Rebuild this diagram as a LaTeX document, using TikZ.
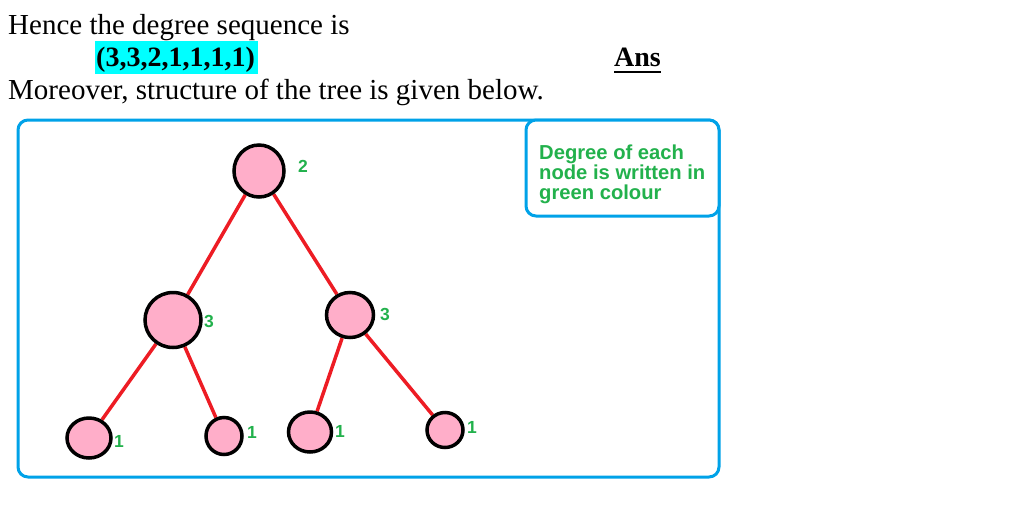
\documentclass[tikz,border=0pt]{standalone}
\usepackage{fontspec}
\setmainfont{Liberation Serif}
\newfontfamily\arialf{Liberation Sans}
\usetikzlibrary{shapes.geometric,backgrounds,calc}
\definecolor{gpink}{HTML}{FFAEC9}
\definecolor{gred}{HTML}{ED1C24}
\definecolor{ggreen}{HTML}{22B14C}
\definecolor{gblue}{HTML}{00A2E8}
\definecolor{gcyan}{HTML}{00FFFF}
\tikzset{
  vert/.style={ellipse,draw=black,fill=gpink,line width=3.5pt,inner sep=0pt},
  edge/.style={draw=gred,line width=3.5pt},
  deg/.style={anchor=base west,inner sep=0pt,text=ggreen,font=\arialf\bfseries\fontsize{17.5}{18}\selectfont},
  note/.style={anchor=base west,inner sep=0pt,text=ggreen,font=\arialf\bfseries\fontsize{20.2}{21}\selectfont},
  body/.style={anchor=base west,inner sep=0pt,font=\fontsize{29}{30}\selectfont},
  bodyb/.style={anchor=base west,inner sep=0pt,font=\fontsize{28}{30}\selectfont\bfseries},
  frame/.style={draw=gblue,line width=3pt,rounded corners=10pt}
}
\begin{document}
\begin{tikzpicture}[x=1pt,y=-1pt]
\useasboundingbox (0,0) rectangle (1014,509);
% text
\node[body] (t1) at (8,34) {Hence the degree sequence is};
\fill[gcyan] (95,41) rectangle (258,74);
\node[bodyb] (seq) at (96,66) {(3,3,2,1,1,1,1)};
\node[bodyb] (ans) at (614,66) {Ans};
\draw[line width=2pt] ($(ans.base west)+(0,6)$) -- ($(ans.base east)+(0,6)$);
\node[body] (t3) at (8,99) {Moreover, structure of the tree is given below.};
% frames
\draw[frame] (18,120) rectangle (719,477);
\draw[frame,fill=white] (526,120) rectangle (719,216);
\node[note] (n1) at (539,159) {Degree of each};
\node[note] (n2) at (539,179) {node is written in};
\node[note] (n3) at (539,199) {green colour};
% vertices
\node[vert,minimum width=50pt,minimum height=52pt] (r) at (259,171) {};
\node[vert,minimum width=56pt,minimum height=55pt] (a) at (173,320) {};
\node[vert,minimum width=47pt,minimum height=45pt] (b) at (350,315) {};
\node[vert,minimum width=44pt,minimum height=40pt] (l1) at (89,438) {};
\node[vert,minimum width=36pt,minimum height=37pt] (l2) at (224,436) {};
\node[vert,minimum width=43pt,minimum height=40pt] (l3) at (310,432) {};
\node[vert,minimum width=36pt,minimum height=35pt] (l4) at (445,430) {};
\begin{pgfonlayer}{background}
\draw[edge] (r) -- (a);
\draw[edge] (r) -- (b);
\draw[edge] (a) -- (l1);
\draw[edge] (a) -- (l2);
\draw[edge] (b) -- (l3);
\draw[edge] (b) -- (l4);
\end{pgfonlayer}
% degrees
\node[deg] (d0) at (298,172) {2};
\node[deg] (d1) at (204,327) {3};
\node[deg] (d2) at (380,320) {3};
\node[deg] (d3) at (114,447) {1};
\node[deg] (d4) at (247,438) {1};
\node[deg] (d5) at (335,437) {1};
\node[deg] (d6) at (467,433) {1};
\end{tikzpicture}
\end{document}
